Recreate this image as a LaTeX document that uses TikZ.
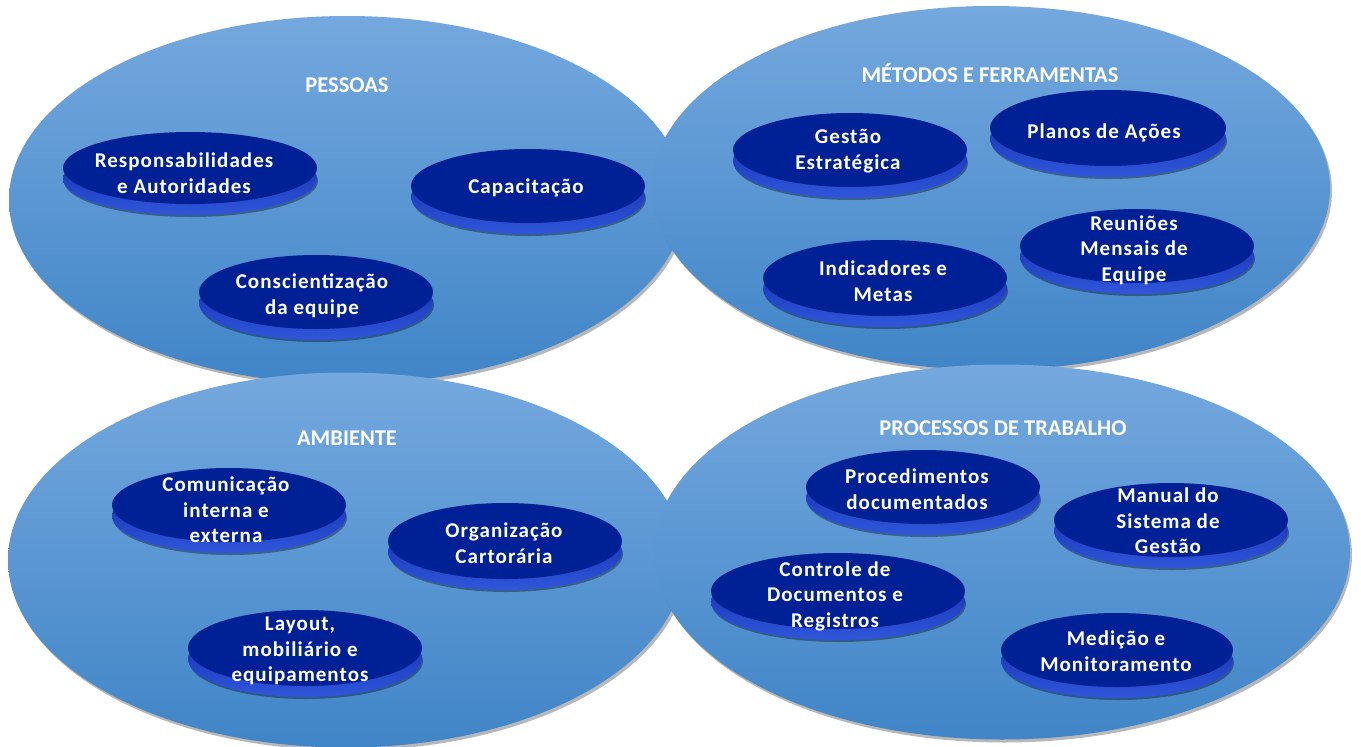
\documentclass[tikz,border=0pt]{standalone}
\usepackage{fontspec}
\setmainfont{Carlito}
\usetikzlibrary{shapes.geometric,shadows}
\definecolor{bigtop}{RGB}{116,168,222}
\definecolor{bigmid}{RGB}{90,154,214}
\definecolor{bigbot}{RGB}{64,133,199}
\definecolor{facecol}{RGB}{0,33,150}
\definecolor{rimtop}{RGB}{14,42,168}
\definecolor{rimbot}{RGB}{48,86,218}
\tikzset{
  bigell/.style={ellipse, inner sep=0pt, top color=bigtop, middle color=bigmid, bottom color=bigbot,
    drop shadow={shadow xshift=2pt, shadow yshift=-3pt, opacity=0.28, fill=black}},
  diskrim/.style={ellipse, inner sep=0pt, top color=rimtop, bottom color=rimbot,
    drop shadow={shadow xshift=1pt, shadow yshift=-2pt, opacity=0.35, fill=black}},
  diskface/.style={ellipse, inner sep=0pt, fill=facecol},
  disktext/.style={text=white, font=\fontsize{21}{25.5}\selectfont\bfseries\addfontfeatures{LetterSpace=5}, align=center, inner sep=0pt},
  grouptitle/.style={text=white, font=\fontsize{22.5}{26}\selectfont\bfseries, inner sep=0pt}
}
\newcommand{\disk}[8]{%
  \node[diskrim, minimum width={2*#4pt}, minimum height={2*#5pt}] (#1-rim) at (#2,-#3-11) {};
  \node[diskface, minimum width={2*#4pt}, minimum height={2*#5pt}] (#1-face) at (#2,-#3) {};
  \node[disktext] (#1) at (#6,-#7) {#8};
}
\begin{document}
\begin{tikzpicture}[x=1pt,y=1pt]
\fill[white] (0,0) rectangle (1361,-747);
\useasboundingbox (0,0) rectangle (1361,-747);
% big ellipses
\node[bigell, minimum width=676pt, minimum height=368pt] (pessoasE) at (347,-200) {};
\node[bigell, minimum width=678pt, minimum height=364pt] (metodosE) at (991,-188) {};
\node[bigell, minimum width=676pt, minimum height=375pt] (ambienteE) at (346,-560) {};
\node[bigell, minimum width=696pt, minimum height=375pt] (processosE) at (1002,-552) {};
% titles
\node[grouptitle] (pessoasT) at (347,-85) {PESSOAS};
\node[grouptitle] (metodosT) at (990,-73) {MÉTODOS E FERRAMENTAS};
\node[grouptitle] (ambienteT) at (347,-438) {AMBIENTE};
\node[grouptitle] (processosT) at (1003,-428) {PROCESSOS DE TRABALHO};
% disks
\disk{resp}{190}{168}{127}{36}{184}{173}{Responsabilidades\\e Autoridades}
\disk{capac}{528}{186}{117}{37}{526}{188}{Capacitação}
\disk{consc}{316}{292}{117}{37}{312}{296}{Conscientização\\da equipe}
\disk{gestao}{850}{150}{117}{37}{848}{151}{Gestão\\Estratégica}
\disk{planos}{1108}{128}{118}{38}{1104}{133}{Planos de Ações}
\disk{indic}{885}{278}{122}{38}{883}{281}{Indicadores e\\Metas}
\disk{reun}{1137}{246}{117}{37}{1134}{250}{Reuniões\\Mensais de\\Equipe}
\disk{comun}{229}{505}{117}{37}{226}{510}{Comunicação\\interna e\\externa}
\disk{organ}{505}{541}{117}{38}{504}{543}{Organização\\Cartorária}
\disk{layout}{305}{648}{117}{38}{300}{651}{Layout,\\mobiliário e\\equipamentos}
\disk{proced}{923}{487}{117}{37}{917}{489}{Procedimentos\\documentados}
\disk{manual}{1171}{520}{117}{37}{1168}{521}{Manual do\\Sistema de\\Gestão}
\disk{controle}{838}{591}{127}{38}{835}{596}{Controle de\\Documentos e\\Registros}
\disk{medicao}{1117}{650}{116}{37}{1116}{651}{Medição e\\Monitoramento}
\end{tikzpicture}
\end{document}
